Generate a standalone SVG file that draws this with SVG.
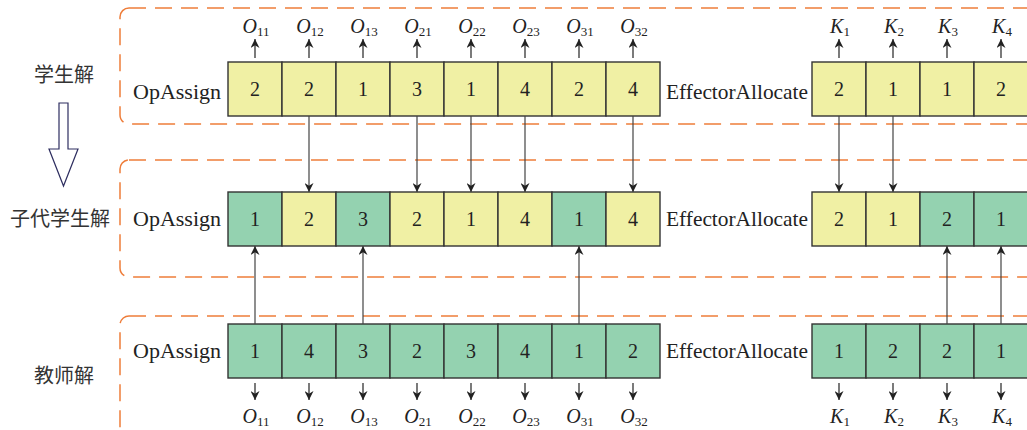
<svg xmlns="http://www.w3.org/2000/svg" width="1027" height="430" viewBox="0 0 1027 430">
  <style>
    .frame { fill: none; stroke: #ee7d3a; stroke-width: 1.5; stroke-dasharray: 17 9; }
    .cell { stroke: #333; stroke-width: 1.4; }
    .y { fill: #f0f0a4; }
    .g { fill: #94d2b0; }
    .num { font-family: "Liberation Serif", "Times New Roman", serif; font-size: 20px; fill: #222; text-anchor: middle; }
    .lbl { font-family: "Liberation Serif", "Times New Roman", serif; font-size: 22px; fill: #222; }
    .cn { font-family: "Noto Sans CJK SC", "Noto Sans", sans-serif; font-size: 20px; fill: #333; text-anchor: middle; }
    .var { font-family: "Liberation Serif", "Times New Roman", serif; font-size: 20px; font-style: italic; fill: #222; text-anchor: middle; }
    .sub { font-size: 13px; font-style: normal; }
    .link { stroke: #444; stroke-width: 1.2; fill: none; marker-end: url(#head); }
    .tick { stroke: #222; stroke-width: 1.2; fill: none; marker-end: url(#head); }
  </style>
  <defs>
    <marker id="head" viewBox="0 0 10 10" refX="10" refY="5" markerWidth="9" markerHeight="9" markerUnits="userSpaceOnUse" orient="auto">
      <path d="M0,0 L10,5 L0,10 L3,5 z" fill="#222"/>
    </marker>
  </defs>

  <!-- dashed frames around each solution row -->
  <g id="frames">
    <rect class="frame" x="120" y="8" width="940" height="116" rx="9"/>
    <rect class="frame" x="120" y="160" width="940" height="117" rx="9"/>
    <rect class="frame" x="120" y="316" width="940" height="140" rx="9"/>
  </g>

  <!-- row captions -->
  <g id="captions">
    <text class="cn" x="64" y="82">学生解</text>
    <text class="cn" x="60" y="226">子代学生解</text>
    <text class="cn" x="64" y="383">教师解</text>
    <polygon points="59,103 68,103 68,149 78,149 63.5,186 49,149 59,149" fill="#fff" stroke="#2e2e60" stroke-width="1.2"/>
  </g>

  <!-- student solution -->
  <g id="student">
    <text class="lbl" x="133" y="99">OpAssign</text>
    <rect class="cell y" x="228" y="62" width="54" height="54"/>
    <rect class="cell y" x="282" y="62" width="54" height="54"/>
    <rect class="cell y" x="336" y="62" width="54" height="54"/>
    <rect class="cell y" x="390" y="62" width="54" height="54"/>
    <rect class="cell y" x="444" y="62" width="54" height="54"/>
    <rect class="cell y" x="498" y="62" width="54" height="54"/>
    <rect class="cell y" x="552" y="62" width="54" height="54"/>
    <rect class="cell y" x="606" y="62" width="54" height="54"/>
    <text class="num" x="255" y="96">2</text>
    <text class="num" x="309" y="96">2</text>
    <text class="num" x="363" y="96">1</text>
    <text class="num" x="417" y="96">3</text>
    <text class="num" x="471" y="96">1</text>
    <text class="num" x="525" y="96">4</text>
    <text class="num" x="579" y="96">2</text>
    <text class="num" x="633" y="96">4</text>
    <text class="lbl" x="666" y="99" textLength="142" lengthAdjust="spacingAndGlyphs">EffectorAllocate</text>
    <rect class="cell y" x="812" y="62" width="54" height="54"/>
    <rect class="cell y" x="866" y="62" width="54" height="54"/>
    <rect class="cell y" x="920" y="62" width="54" height="54"/>
    <rect class="cell y" x="974" y="62" width="54" height="54"/>
    <text class="num" x="839" y="96">2</text>
    <text class="num" x="893" y="96">1</text>
    <text class="num" x="947" y="96">1</text>
    <text class="num" x="1001" y="96">2</text>
  </g>

  <!-- offspring solution -->
  <g id="offspring">
    <text class="lbl" x="133" y="226">OpAssign</text>
    <rect class="cell g" x="228" y="192" width="54" height="54"/>
    <rect class="cell y" x="282" y="192" width="54" height="54"/>
    <rect class="cell g" x="336" y="192" width="54" height="54"/>
    <rect class="cell y" x="390" y="192" width="54" height="54"/>
    <rect class="cell y" x="444" y="192" width="54" height="54"/>
    <rect class="cell y" x="498" y="192" width="54" height="54"/>
    <rect class="cell g" x="552" y="192" width="54" height="54"/>
    <rect class="cell y" x="606" y="192" width="54" height="54"/>
    <text class="num" x="255" y="226">1</text>
    <text class="num" x="309" y="226">2</text>
    <text class="num" x="363" y="226">3</text>
    <text class="num" x="417" y="226">2</text>
    <text class="num" x="471" y="226">1</text>
    <text class="num" x="525" y="226">4</text>
    <text class="num" x="579" y="226">1</text>
    <text class="num" x="633" y="226">4</text>
    <text class="lbl" x="666" y="226" textLength="142" lengthAdjust="spacingAndGlyphs">EffectorAllocate</text>
    <rect class="cell y" x="812" y="192" width="54" height="54"/>
    <rect class="cell y" x="866" y="192" width="54" height="54"/>
    <rect class="cell g" x="920" y="192" width="54" height="54"/>
    <rect class="cell g" x="974" y="192" width="54" height="54"/>
    <text class="num" x="839" y="226">2</text>
    <text class="num" x="893" y="226">1</text>
    <text class="num" x="947" y="226">2</text>
    <text class="num" x="1001" y="226">1</text>
  </g>

  <!-- teacher solution -->
  <g id="teacher">
    <text class="lbl" x="133" y="358">OpAssign</text>
    <rect class="cell g" x="228" y="324" width="54" height="54"/>
    <rect class="cell g" x="282" y="324" width="54" height="54"/>
    <rect class="cell g" x="336" y="324" width="54" height="54"/>
    <rect class="cell g" x="390" y="324" width="54" height="54"/>
    <rect class="cell g" x="444" y="324" width="54" height="54"/>
    <rect class="cell g" x="498" y="324" width="54" height="54"/>
    <rect class="cell g" x="552" y="324" width="54" height="54"/>
    <rect class="cell g" x="606" y="324" width="54" height="54"/>
    <text class="num" x="255" y="358">1</text>
    <text class="num" x="309" y="358">4</text>
    <text class="num" x="363" y="358">3</text>
    <text class="num" x="417" y="358">2</text>
    <text class="num" x="471" y="358">3</text>
    <text class="num" x="525" y="358">4</text>
    <text class="num" x="579" y="358">1</text>
    <text class="num" x="633" y="358">2</text>
    <text class="lbl" x="666" y="358" textLength="142" lengthAdjust="spacingAndGlyphs">EffectorAllocate</text>
    <rect class="cell g" x="812" y="324" width="54" height="54"/>
    <rect class="cell g" x="866" y="324" width="54" height="54"/>
    <rect class="cell g" x="920" y="324" width="54" height="54"/>
    <rect class="cell g" x="974" y="324" width="54" height="54"/>
    <text class="num" x="839" y="358">1</text>
    <text class="num" x="893" y="358">2</text>
    <text class="num" x="947" y="358">2</text>
    <text class="num" x="1001" y="358">1</text>
  </g>

  <!-- gene labels above and below -->
  <g id="gene-labels">
    <text class="var" x="256" y="33">O<tspan class="sub" dy="3">11</tspan></text>
    <text class="var" x="310" y="33">O<tspan class="sub" dy="3">12</tspan></text>
    <text class="var" x="364" y="33">O<tspan class="sub" dy="3">13</tspan></text>
    <text class="var" x="418" y="33">O<tspan class="sub" dy="3">21</tspan></text>
    <text class="var" x="472" y="33">O<tspan class="sub" dy="3">22</tspan></text>
    <text class="var" x="526" y="33">O<tspan class="sub" dy="3">23</tspan></text>
    <text class="var" x="580" y="33">O<tspan class="sub" dy="3">31</tspan></text>
    <text class="var" x="634" y="33">O<tspan class="sub" dy="3">32</tspan></text>
    <text class="var" x="840" y="33">K<tspan class="sub" dy="3">1</tspan></text>
    <text class="var" x="894" y="33">K<tspan class="sub" dy="3">2</tspan></text>
    <text class="var" x="948" y="33">K<tspan class="sub" dy="3">3</tspan></text>
    <text class="var" x="1002" y="33">K<tspan class="sub" dy="3">4</tspan></text>

    <text class="var" x="256" y="423">O<tspan class="sub" dy="3">11</tspan></text>
    <text class="var" x="310" y="423">O<tspan class="sub" dy="3">12</tspan></text>
    <text class="var" x="364" y="423">O<tspan class="sub" dy="3">13</tspan></text>
    <text class="var" x="418" y="423">O<tspan class="sub" dy="3">21</tspan></text>
    <text class="var" x="472" y="423">O<tspan class="sub" dy="3">22</tspan></text>
    <text class="var" x="526" y="423">O<tspan class="sub" dy="3">23</tspan></text>
    <text class="var" x="580" y="423">O<tspan class="sub" dy="3">31</tspan></text>
    <text class="var" x="634" y="423">O<tspan class="sub" dy="3">32</tspan></text>
    <text class="var" x="840" y="423">K<tspan class="sub" dy="3">1</tspan></text>
    <text class="var" x="894" y="423">K<tspan class="sub" dy="3">2</tspan></text>
    <text class="var" x="948" y="423">K<tspan class="sub" dy="3">3</tspan></text>
    <text class="var" x="1002" y="423">K<tspan class="sub" dy="3">4</tspan></text>
  </g>

  <!-- connectors -->
  <g id="connectors">
    <!-- short arrows to the gene labels -->
    <line class="tick" x1="255" y1="58" x2="255" y2="39"/>
    <line class="tick" x1="309" y1="58" x2="309" y2="39"/>
    <line class="tick" x1="363" y1="58" x2="363" y2="39"/>
    <line class="tick" x1="417" y1="58" x2="417" y2="39"/>
    <line class="tick" x1="471" y1="58" x2="471" y2="39"/>
    <line class="tick" x1="525" y1="58" x2="525" y2="39"/>
    <line class="tick" x1="579" y1="58" x2="579" y2="39"/>
    <line class="tick" x1="633" y1="58" x2="633" y2="39"/>
    <line class="tick" x1="839" y1="58" x2="839" y2="39"/>
    <line class="tick" x1="893" y1="58" x2="893" y2="39"/>
    <line class="tick" x1="947" y1="58" x2="947" y2="39"/>
    <line class="tick" x1="1001" y1="58" x2="1001" y2="39"/>

    <line class="tick" x1="255" y1="383" x2="255" y2="400"/>
    <line class="tick" x1="309" y1="383" x2="309" y2="400"/>
    <line class="tick" x1="363" y1="383" x2="363" y2="400"/>
    <line class="tick" x1="417" y1="383" x2="417" y2="400"/>
    <line class="tick" x1="471" y1="383" x2="471" y2="400"/>
    <line class="tick" x1="525" y1="383" x2="525" y2="400"/>
    <line class="tick" x1="579" y1="383" x2="579" y2="400"/>
    <line class="tick" x1="633" y1="383" x2="633" y2="400"/>
    <line class="tick" x1="839" y1="383" x2="839" y2="400"/>
    <line class="tick" x1="893" y1="383" x2="893" y2="400"/>
    <line class="tick" x1="947" y1="383" x2="947" y2="400"/>
    <line class="tick" x1="1001" y1="383" x2="1001" y2="400"/>

    <!-- genes inherited from the student solution -->
    <line class="link" x1="309" y1="116" x2="309" y2="192"/>
    <line class="link" x1="417" y1="116" x2="417" y2="192"/>
    <line class="link" x1="471" y1="116" x2="471" y2="192"/>
    <line class="link" x1="525" y1="116" x2="525" y2="192"/>
    <line class="link" x1="633" y1="116" x2="633" y2="192"/>
    <line class="link" x1="839" y1="116" x2="839" y2="192"/>
    <line class="link" x1="893" y1="116" x2="893" y2="192"/>

    <!-- genes inherited from the teacher solution -->
    <line class="link" x1="255" y1="324" x2="255" y2="246"/>
    <line class="link" x1="363" y1="324" x2="363" y2="246"/>
    <line class="link" x1="579" y1="324" x2="579" y2="246"/>
    <line class="link" x1="947" y1="324" x2="947" y2="246"/>
    <line class="link" x1="1001" y1="324" x2="1001" y2="246"/>
  </g>
</svg>
